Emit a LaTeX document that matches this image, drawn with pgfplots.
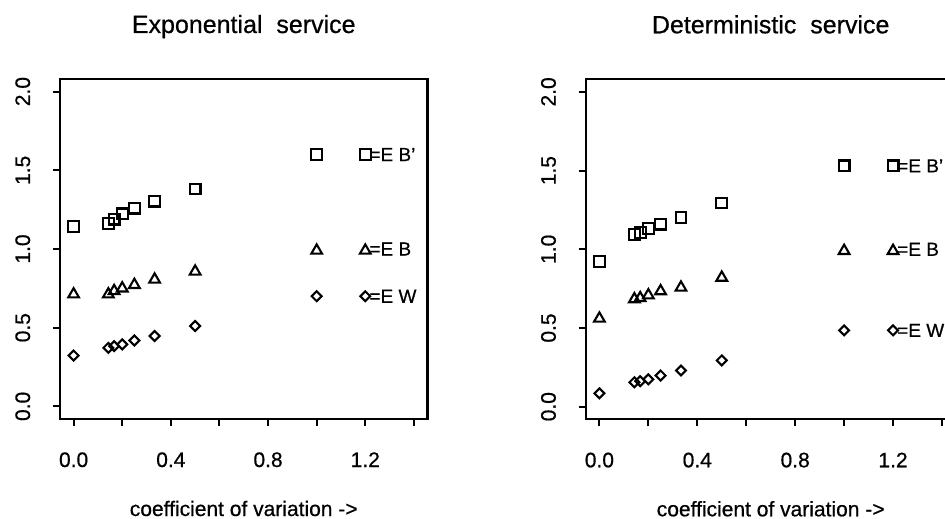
\documentclass[border=0pt]{standalone}
\usepackage{fontspec}
\setmainfont{Liberation Sans}[FakeBold=0.6]
\usepackage{pgfplots}
\pgfplotsset{compat=1.18}
\tikzset{lab/.style={anchor=west, inner sep=0pt, xshift=4pt, font=\fontsize{19}{19}\selectfont}}
\pgfplotsset{
  myax/.style={
    scale only axis, height=340pt,
    xmin=-0.056, xmax=1.456, ymin=-0.08, ymax=2.08,
    enlargelimits=false, clip=false,
    axis line style={line width=2.4pt, black},
    tick style={line width=2pt, black},
    tick align=outside, major tick length=7pt,
    xtick pos=left, ytick pos=left,
    xtick={0,0.2,0.4,0.6,0.8,1.0,1.2,1.4},
    xticklabels={0.0,,0.4,,0.8,,1.2,},
    ytick={0,0.5,1.0,1.5,2.0},
    yticklabels={0.0,0.5,1.0,1.5,2.0},
    xticklabel style={font=\fontsize{21}{21}\selectfont, anchor=base, yshift=-41pt},
    yticklabel style={font=\fontsize{21}{21}\selectfont, xshift=-23pt, rotate=90, anchor=base},
    every axis title/.style={at={(0.5,1)}, anchor=base, yshift=46pt, font=\fontsize{25}{25}\selectfont},
    every axis x label/.style={at={(0.5,0)}, anchor=base, yshift=-97pt, font=\fontsize{21}{21}\selectfont},
    xlabel={coefficient of variation ->},
    sq/.style={only marks, mark=square, mark size=5.4, mark options={line width=2.1pt, black}},
    tri/.style={only marks, mark=triangle, mark size=6.2, mark options={line width=2.1pt, black}},
    dia/.style={only marks, mark=square, mark size=3.5, mark options={line width=2.1pt, black, rotate=45}},
  }
}
\begin{document}
\begin{tikzpicture}[x=1pt,y=1pt]
\useasboundingbox (0,0) rectangle (945,519);
\clip (0,0) rectangle (945,519);

\begin{axis}[myax, at={(60pt,100pt)}, anchor=south west, width=367.5pt,
  title={Exponential\ \ service}]
\addplot[sq] coordinates {(0,1.145) (0.1429,1.16) (0.1667,1.19) (0.2,1.223) (0.25,1.26) (0.3333,1.304) (0.5,1.381)};
\addplot[tri] coordinates {(0,0.712) (0.1429,0.712) (0.1667,0.733) (0.2,0.75) (0.25,0.772) (0.3333,0.806) (0.5,0.857)};
\addplot[dia] coordinates {(0,0.323) (0.1429,0.372) (0.1667,0.383) (0.2,0.394) (0.25,0.419) (0.3333,0.447) (0.5,0.511)};
\addplot[sq] coordinates {(1.0,1.6) (1.2,1.6)};
\addplot[tri] coordinates {(1.0,0.99) (1.2,0.99)};
\addplot[dia] coordinates {(1.0,0.70) (1.2,0.70)};
\node[lab] at (axis cs:1.2,1.6) {=E B'};
\node[lab] at (axis cs:1.2,1.0) {=E B};
\node[lab] at (axis cs:1.2,0.70) {=E W};
\end{axis}

\begin{axis}[myax, at={(585.7pt,99.7pt)}, anchor=south west, width=370pt,
  title={Deterministic\ \ service}]
\addplot[sq] coordinates {(0,0.921) (0.1429,1.096) (0.1667,1.106) (0.2,1.132) (0.25,1.16) (0.3333,1.202) (0.5,1.294)};
\addplot[tri] coordinates {(0,0.56) (0.1429,0.683) (0.1667,0.69) (0.2,0.708) (0.25,0.734) (0.3333,0.757) (0.5,0.82)};
\addplot[dia] coordinates {(0,0.085) (0.1429,0.155) (0.1667,0.162) (0.2,0.174) (0.25,0.198) (0.3333,0.230) (0.5,0.294)};
\addplot[sq] coordinates {(1.0,1.53) (1.2,1.53)};
\addplot[tri] coordinates {(1.0,0.99) (1.2,0.99)};
\addplot[dia] coordinates {(1.0,0.485) (1.2,0.485)};
\node[lab] at (axis cs:1.2,1.53) {=E B'};
\node[lab] at (axis cs:1.2,1.0) {=E B};
\node[lab] at (axis cs:1.2,0.485) {=E W};
\end{axis}
\end{tikzpicture}
\end{document}
